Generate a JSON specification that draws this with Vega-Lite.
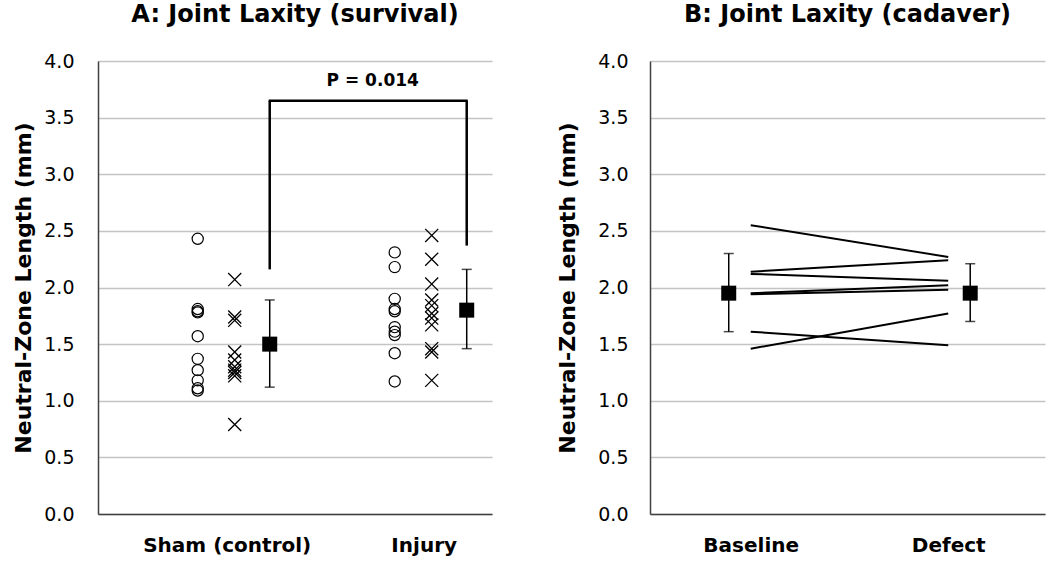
{
  "$schema": "https://vega.github.io/schema/vega-lite/v6.json",
  "background": "white",
  "padding": {"left": 12, "top": 3, "right": 4, "bottom": 4},
  "spacing": 64,
  "config": {
    "font": "DejaVu Sans",
    "view": {"stroke": null},
    "axis": {"labelColor": "#000000", "titleColor": "#000000", "ticks": false, "domainColor": "#404040", "domainWidth": 1.5, "gridColor": "#c4c4c4", "gridWidth": 1.5},
    "title": {"fontSize": 24, "fontWeight": "bold", "color": "#000000", "anchor": "middle", "offset": 25}
  },
  "datasets": {
    "survival": [
      {"group": "Sham (control)", "kind": "o", "value": 2.43},
      {"group": "Sham (control)", "kind": "o", "value": 1.81},
      {"group": "Sham (control)", "kind": "o", "value": 1.79},
      {"group": "Sham (control)", "kind": "o", "value": 1.78},
      {"group": "Sham (control)", "kind": "o", "value": 1.57},
      {"group": "Sham (control)", "kind": "o", "value": 1.37},
      {"group": "Sham (control)", "kind": "o", "value": 1.27},
      {"group": "Sham (control)", "kind": "o", "value": 1.18},
      {"group": "Sham (control)", "kind": "o", "value": 1.11},
      {"group": "Sham (control)", "kind": "o", "value": 1.09},
      {"group": "Sham (control)", "kind": "x", "value": 2.07},
      {"group": "Sham (control)", "kind": "x", "value": 1.74},
      {"group": "Sham (control)", "kind": "x", "value": 1.71},
      {"group": "Sham (control)", "kind": "x", "value": 1.43},
      {"group": "Sham (control)", "kind": "x", "value": 1.36},
      {"group": "Sham (control)", "kind": "x", "value": 1.30},
      {"group": "Sham (control)", "kind": "x", "value": 1.27},
      {"group": "Sham (control)", "kind": "x", "value": 1.25},
      {"group": "Sham (control)", "kind": "x", "value": 1.22},
      {"group": "Sham (control)", "kind": "x", "value": 0.79},
      {"group": "Injury", "kind": "o", "value": 2.31},
      {"group": "Injury", "kind": "o", "value": 2.18},
      {"group": "Injury", "kind": "o", "value": 1.90},
      {"group": "Injury", "kind": "o", "value": 1.81},
      {"group": "Injury", "kind": "o", "value": 1.79},
      {"group": "Injury", "kind": "o", "value": 1.65},
      {"group": "Injury", "kind": "o", "value": 1.61},
      {"group": "Injury", "kind": "o", "value": 1.58},
      {"group": "Injury", "kind": "o", "value": 1.42},
      {"group": "Injury", "kind": "o", "value": 1.17},
      {"group": "Injury", "kind": "x", "value": 2.46},
      {"group": "Injury", "kind": "x", "value": 2.25},
      {"group": "Injury", "kind": "x", "value": 2.03},
      {"group": "Injury", "kind": "x", "value": 1.89},
      {"group": "Injury", "kind": "x", "value": 1.84},
      {"group": "Injury", "kind": "x", "value": 1.77},
      {"group": "Injury", "kind": "x", "value": 1.73},
      {"group": "Injury", "kind": "x", "value": 1.67},
      {"group": "Injury", "kind": "x", "value": 1.46},
      {"group": "Injury", "kind": "x", "value": 1.43},
      {"group": "Injury", "kind": "x", "value": 1.18}
    ],
    "survivalMeans": [
      {"group": "Sham (control)", "mean": 1.50, "lo": 1.12, "hi": 1.89},
      {"group": "Injury", "mean": 1.80, "lo": 1.46, "hi": 2.16}
    ],
    "bracketLegs": [
      {"group": "Sham (control)", "lo": 2.16, "hi": 3.65},
      {"group": "Injury", "lo": 2.37, "hi": 3.65}
    ],
    "bracketTop": [
      {"group": "Sham (control)", "to": "Injury", "y": 3.65, "label": "P = 0.014", "labelY": 3.82}
    ],
    "cadaver": [
      {"specimen": 1, "time": "Baseline", "value": 2.55},
      {"specimen": 1, "time": "Defect", "value": 2.27},
      {"specimen": 2, "time": "Baseline", "value": 2.14},
      {"specimen": 2, "time": "Defect", "value": 2.24},
      {"specimen": 3, "time": "Baseline", "value": 2.12},
      {"specimen": 3, "time": "Defect", "value": 2.06},
      {"specimen": 4, "time": "Baseline", "value": 1.95},
      {"specimen": 4, "time": "Defect", "value": 2.02},
      {"specimen": 5, "time": "Baseline", "value": 1.94},
      {"specimen": 5, "time": "Defect", "value": 1.98},
      {"specimen": 6, "time": "Baseline", "value": 1.61},
      {"specimen": 6, "time": "Defect", "value": 1.49},
      {"specimen": 7, "time": "Baseline", "value": 1.46},
      {"specimen": 7, "time": "Defect", "value": 1.77}
    ],
    "cadaverMeans": [
      {"time": "Baseline", "mean": 1.95, "lo": 1.61, "hi": 2.30},
      {"time": "Defect", "mean": 1.95, "lo": 1.70, "hi": 2.21}
    ]
  },
  "hconcat": [
    {
      "title": "A: Joint Laxity (survival)",
      "width": 394,
      "height": 453,
      "encoding": {
        "x": {
          "field": "group", "type": "nominal",
          "scale": {"type": "point", "domain": ["Sham (control)", "Injury"], "paddingOuter": 0.495, "align": 0.694},
          "axis": {"title": null, "labelFontSize": 20, "labelFontWeight": "bold", "labelPadding": 21, "labelAngle": 0, "labelOffset": -8, "grid": false}
        }
      },
      "layer": [
        {
          "data": {"name": "survival"},
          "transform": [{"filter": "datum.kind === 'o'"}],
          "mark": {"type": "point", "shape": "circle", "filled": false, "stroke": "black", "strokeWidth": 1.2, "size": 125, "opacity": 1, "xOffset": -37},
          "encoding": {
            "y": {
              "field": "value", "type": "quantitative",
              "scale": {"domain": [0, 4], "nice": false},
              "axis": {"title": "Neutral-Zone Length (mm)", "titleFontSize": 22, "titleFontWeight": "bold", "titlePadding": 8, "labelFontSize": 19, "labelPadding": 24, "values": [0, 0.5, 1, 1.5, 2, 2.5, 3, 3.5, 4], "format": ".1f", "grid": true}
            }
          }
        },
        {
          "data": {"name": "survival"},
          "transform": [{"filter": "datum.kind === 'x'"}],
          "mark": {"type": "point", "shape": "M-1,-1L1,1M-1,1L1,-1", "filled": false, "stroke": "black", "strokeWidth": 1.3, "size": 170, "opacity": 1},
          "encoding": {"y": {"field": "value", "type": "quantitative"}}
        },
        {
          "data": {"name": "survivalMeans"},
          "mark": {"type": "rule", "color": "black", "strokeWidth": 1.5, "xOffset": 35},
          "encoding": {"y": {"field": "lo", "type": "quantitative"}, "y2": {"field": "hi"}}
        },
        {
          "data": {"name": "survivalMeans"},
          "mark": {"type": "tick", "color": "black", "thickness": 1.5, "size": 10, "xOffset": 35, "orient": "horizontal"},
          "encoding": {"y": {"field": "lo", "type": "quantitative"}}
        },
        {
          "data": {"name": "survivalMeans"},
          "mark": {"type": "tick", "color": "black", "thickness": 1.5, "size": 10, "xOffset": 35, "orient": "horizontal"},
          "encoding": {"y": {"field": "hi", "type": "quantitative"}}
        },
        {
          "data": {"name": "survivalMeans"},
          "mark": {"type": "point", "shape": "square", "filled": true, "color": "black", "size": 225, "opacity": 1, "xOffset": 35},
          "encoding": {"y": {"field": "mean", "type": "quantitative"}}
        },
        {
          "data": {"name": "bracketLegs"},
          "mark": {"type": "rule", "color": "black", "strokeWidth": 2.5, "xOffset": 35},
          "encoding": {"y": {"field": "lo", "type": "quantitative"}, "y2": {"field": "hi"}}
        },
        {
          "data": {"name": "bracketTop"},
          "mark": {"type": "rule", "color": "black", "strokeWidth": 2.5, "xOffset": 34, "x2Offset": 36},
          "encoding": {"x2": {"field": "to"}, "y": {"field": "y", "type": "quantitative"}}
        },
        {
          "data": {"name": "bracketTop"},
          "mark": {"type": "text", "fontSize": 17, "fontWeight": "bold", "color": "black", "dx": 138, "baseline": "middle", "align": "center"},
          "encoding": {"y": {"field": "labelY", "type": "quantitative"}, "text": {"field": "label"}}
        }
      ]
    },
    {
      "title": "B: Joint Laxity (cadaver)",
      "width": 395,
      "height": 453,
      "encoding": {
        "x": {
          "field": "time", "type": "nominal",
          "scale": {"type": "point", "domain": ["Baseline", "Defect"], "paddingOuter": 0.4826, "align": 0.51},
          "axis": {"title": null, "labelFontSize": 20, "labelFontWeight": "bold", "labelPadding": 21, "labelAngle": 0, "grid": false}
        }
      },
      "layer": [
        {
          "data": {"name": "cadaver"},
          "mark": {"type": "line", "color": "black", "strokeWidth": 2},
          "encoding": {
            "detail": {"field": "specimen", "type": "nominal"},
            "y": {
              "field": "value", "type": "quantitative",
              "scale": {"domain": [0, 4], "nice": false},
              "axis": {"title": "Neutral-Zone Length (mm)", "titleFontSize": 22, "titleFontWeight": "bold", "titlePadding": 18, "labelFontSize": 19, "labelPadding": 22, "values": [0, 0.5, 1, 1.5, 2, 2.5, 3, 3.5, 4], "format": ".1f", "grid": true}
            }
          }
        },
        {
          "data": {"name": "cadaverMeans"},
          "transform": [{"filter": "datum.time === 'Baseline'"}],
          "layer": [
            {"mark": {"type": "rule", "color": "black", "strokeWidth": 1.5, "xOffset": -22}, "encoding": {"y": {"field": "lo", "type": "quantitative"}, "y2": {"field": "hi"}}},
            {"mark": {"type": "tick", "color": "black", "thickness": 1.5, "size": 10, "xOffset": -22, "orient": "horizontal"}, "encoding": {"y": {"field": "lo", "type": "quantitative"}}},
            {"mark": {"type": "tick", "color": "black", "thickness": 1.5, "size": 10, "xOffset": -22, "orient": "horizontal"}, "encoding": {"y": {"field": "hi", "type": "quantitative"}}},
            {"mark": {"type": "point", "shape": "square", "filled": true, "color": "black", "size": 225, "opacity": 1, "xOffset": -22}, "encoding": {"y": {"field": "mean", "type": "quantitative"}}}
          ]
        },
        {
          "data": {"name": "cadaverMeans"},
          "transform": [{"filter": "datum.time === 'Defect'"}],
          "layer": [
            {"mark": {"type": "rule", "color": "black", "strokeWidth": 1.5, "xOffset": 22}, "encoding": {"y": {"field": "lo", "type": "quantitative"}, "y2": {"field": "hi"}}},
            {"mark": {"type": "tick", "color": "black", "thickness": 1.5, "size": 10, "xOffset": 22, "orient": "horizontal"}, "encoding": {"y": {"field": "lo", "type": "quantitative"}}},
            {"mark": {"type": "tick", "color": "black", "thickness": 1.5, "size": 10, "xOffset": 22, "orient": "horizontal"}, "encoding": {"y": {"field": "hi", "type": "quantitative"}}},
            {"mark": {"type": "point", "shape": "square", "filled": true, "color": "black", "size": 225, "opacity": 1, "xOffset": 22}, "encoding": {"y": {"field": "mean", "type": "quantitative"}}}
          ]
        }
      ]
    }
  ]
}
